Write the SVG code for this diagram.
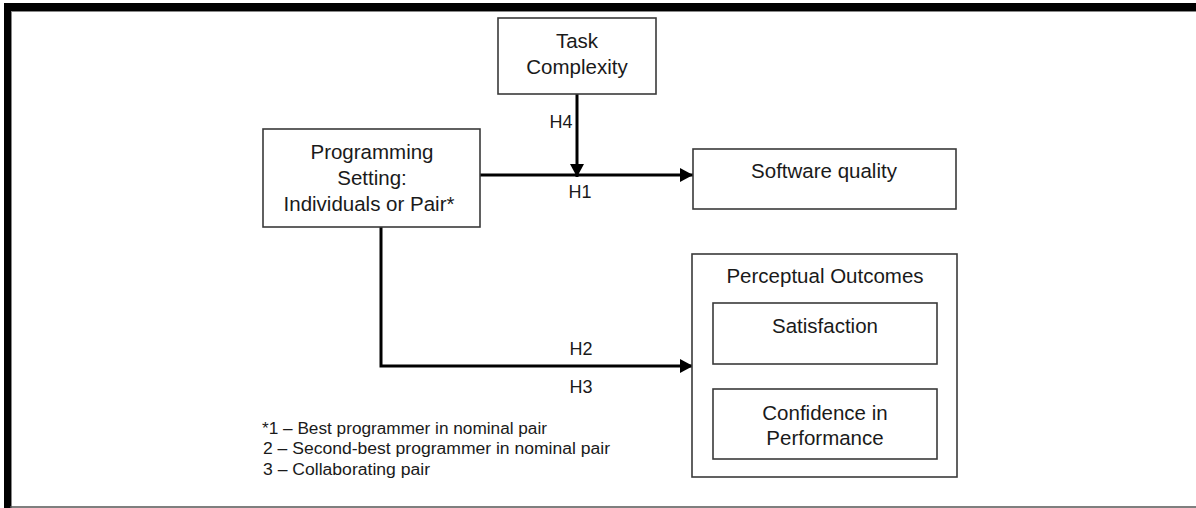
<svg xmlns="http://www.w3.org/2000/svg" width="1196" height="508" viewBox="0 0 1196 508">
<defs>
<marker id="ah" markerUnits="userSpaceOnUse" markerWidth="14" markerHeight="14" refX="13" refY="7" orient="auto">
<path d="M0,0 L13,7 L0,14 z" fill="#000"/>
</marker>
<style>
.box{fill:#fff;stroke:#3a3a3a;stroke-width:1.6}
.t{font-family:"Liberation Sans",Arial,sans-serif;font-size:20.5px;fill:#1a1a1a;text-anchor:middle}
.h{font-family:"Liberation Sans",Arial,sans-serif;font-size:18px;fill:#1a1a1a;text-anchor:middle}
.lg{font-family:"Liberation Sans",Arial,sans-serif;font-size:16px;fill:#1a1a1a}
.c{fill:none;stroke:#000;stroke-width:3}
</style>
</defs>
<rect width="1196" height="508" fill="#fff"/>
<g id="frame">
<rect x="4" y="3" width="1192" height="8" fill="#000"/>
<rect x="4" y="3" width="7" height="505" fill="#000"/>
<line x1="11.5" y1="11" x2="11.5" y2="508" stroke="#888" stroke-width="1"/>
<line x1="11" y1="11.5" x2="1196" y2="11.5" stroke="#888" stroke-width="1"/>
<line x1="10" y1="507" x2="1196" y2="507" stroke="#555" stroke-width="1.5"/>
</g>
<g id="connectors">
<line class="c" x1="480" y1="175" x2="693" y2="175" marker-end="url(#ah)"/>
<line class="c" x1="577" y1="94" x2="577" y2="177" marker-end="url(#ah)"/>
<polyline class="c" points="381,227 381,366 693,366" marker-end="url(#ah)"/>
</g>
<g id="task">
<rect class="box" x="498" y="18" width="158" height="76"/>
<text class="t" x="577" y="48">Task</text>
<text class="t" x="577" y="74">Complexity</text>
</g>
<g id="programming">
<rect class="box" x="263" y="129" width="217" height="98"/>
<text class="t" x="372" y="159">Programming</text>
<text class="t" x="372" y="185">Setting:</text>
<text class="t" x="369" y="211">Individuals or Pair*</text>
</g>
<g id="quality">
<rect class="box" x="693" y="149" width="263" height="60"/>
<text class="t" x="824" y="178">Software quality</text>
</g>
<g id="perceptual">
<rect class="box" x="692" y="254" width="265" height="223"/>
<text class="t" x="825" y="283">Perceptual Outcomes</text>
</g>
<g id="satisfaction">
<rect class="box" x="713" y="303" width="224" height="61"/>
<text class="t" x="825" y="333">Satisfaction</text>
</g>
<g id="confidence">
<rect class="box" x="713" y="389" width="224" height="70"/>
<text class="t" x="825" y="420">Confidence in</text>
<text class="t" x="825" y="445">Performance</text>
</g>
<g id="labels">
<text class="h" x="561" y="128">H4</text>
<text class="h" x="580" y="198">H1</text>
<text class="h" x="581" y="355">H2</text>
<text class="h" x="581" y="393">H3</text>
</g>
<g id="legend">
<text class="lg" x="262" y="434" textLength="285" lengthAdjust="spacingAndGlyphs">*1 – Best programmer in nominal pair</text>
<text class="lg" x="263" y="454" textLength="347" lengthAdjust="spacingAndGlyphs">2 – Second-best programmer in nominal pair</text>
<text class="lg" x="263" y="475" textLength="167" lengthAdjust="spacingAndGlyphs">3 – Collaborating pair</text>
</g>
</svg>
